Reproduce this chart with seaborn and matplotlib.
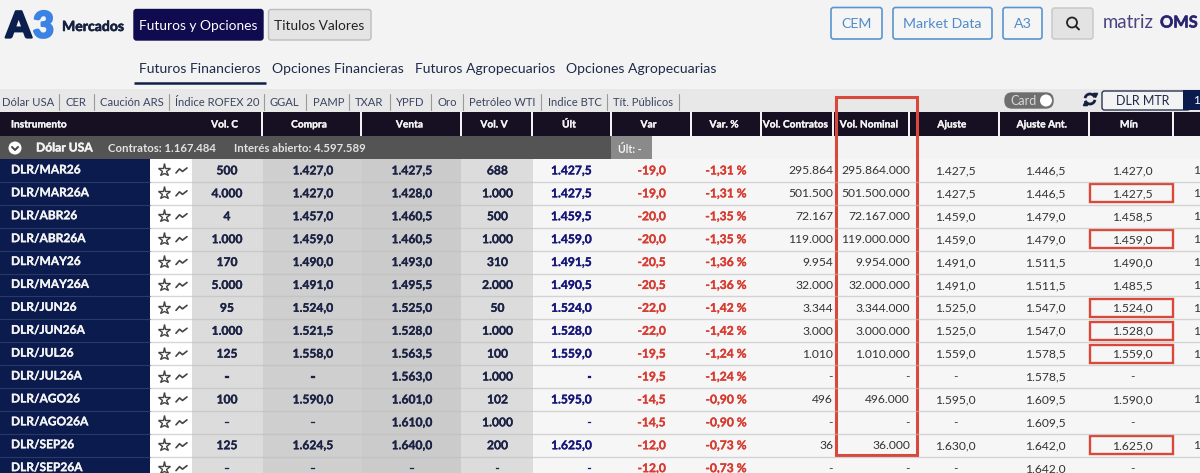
import numpy as np
import seaborn as sns
import matplotlib
matplotlib.use("Agg")
import matplotlib.pyplot as plt
import matplotlib.patheffects as pe
from matplotlib.patches import FancyBboxPatch, Rectangle, Circle, Arc

W, H = 1200, 473

# Table data
instrumentos = ["DLR/MAR26", "DLR/MAR26A", "DLR/ABR26", "DLR/ABR26A", "DLR/MAY26", "DLR/MAY26A", "DLR/JUN26",
                "DLR/JUN26A", "DLR/JUL26", "DLR/JUL26A", "DLR/AGO26", "DLR/AGO26A", "DLR/SEP26", "DLR/SEP26A"]
vol_c = ["500", "4.000", "4", "1.000", "170", "5.000", "95", "1.000", "125", "-", "100", "-", "125", "-"]
compra = ["1.427,0", "1.427,0", "1.457,0", "1.459,0", "1.490,0", "1.491,0", "1.524,0",
          "1.521,5", "1.558,0", "-", "1.590,0", "-", "1.624,5", "-"]
venta = ["1.427,5", "1.428,0", "1.460,5", "1.460,5", "1.493,0", "1.495,5", "1.525,0",
         "1.528,0", "1.563,5", "1.563,0", "1.601,0", "1.610,0", "1.640,0", "-"]
vol_v = ["688", "1.000", "500", "1.000", "310", "2.000", "50", "1.000", "100", "1.000", "102", "1.000", "200", "-"]
ult = ["1.427,5", "1.427,5", "1.459,5", "1.459,0", "1.491,5", "1.490,5", "1.524,0",
       "1.528,0", "1.559,0", "-", "1.595,0", "-", "1.625,0", "-"]
var = ["-19,0", "-19,0", "-20,0", "-20,0", "-20,5", "-20,5", "-22,0",
       "-22,0", "-19,5", "-19,5", "-14,5", "-14,5", "-12,0", "-12,0"]
var_pct = ["-1,31 %", "-1,31 %", "-1,35 %", "-1,35 %", "-1,36 %", "-1,36 %", "-1,42 %",
           "-1,42 %", "-1,24 %", "-1,24 %", "-0,90 %", "-0,90 %", "-0,73 %", "-0,73 %"]
vol_contratos = ["295.864", "501.500", "72.167", "119.000", "9.954", "32.000", "3.344",
                 "3.000", "1.010", "-", "496", "-", "36", "-"]
vol_nominal = ["295.864.000", "501.500.000", "72.167.000", "119.000.000", "9.954.000", "32.000.000", "3.344.000",
               "3.000.000", "1.010.000", "-", "496.000", "-", "36.000", "-"]
ajuste = ["1.427,5", "1.427,5", "1.459,0", "1.459,0", "1.491,0", "1.491,0", "1.525,0",
          "1.525,0", "1.559,0", "-", "1.595,0", "-", "1.630,0", "-"]
ajuste_ant = ["1.446,5", "1.446,5", "1.479,0", "1.479,0", "1.511,5", "1.511,5", "1.547,0",
              "1.547,0", "1.578,5", "1.578,5", "1.609,5", "1.609,5", "1.642,0", "1.642,0"]
minimo = ["1.427,0", "1.427,5", "1.458,5", "1.459,0", "1.490,0", "1.485,5", "1.524,0",
          "1.528,0", "1.559,0", "-", "1.590,0", "-", "1.625,0", "-"]
min_marcados = ["DLR/MAR26A", "DLR/ABR26A", "DLR/JUN26", "DLR/JUN26A", "DLR/JUL26", "DLR/SEP26"]
maximo_corte = ["1", "1", "1", "1", "1", "1", "1", "1", "1", "", "1", "", "1", ""]

encabezados = ["Instrumento", "Vol. C", "Compra", "Venta", "Vol. V", "Últ", "Var", "Var. %", "Vol. Contratos",
               "Vol. Nominal", "Ajuste", "Ajuste Ant.", "Mín"]
filtros = ["Dólar USA", "CER", "Caución ARS", "Índice ROFEX 20", "GGAL", "PAMP", "TXAR", "YPFD", "Oro",
           "Petróleo WTI", "Indice BTC", "Tít. Públicos"]
tabs = ["Futuros Financieros", "Opciones Financieras", "Futuros Agropecuarios", "Opciones Agropecuarias"]

NAVY = "#0b1b4d"
HEAD = "#170f22"
RED = "#d8493c"

sns.set_theme(style="white")
plt.rcParams["font.family"] = ["Lato", "DejaVu Sans"]

fig = plt.figure(figsize=(W / 100, H / 100), dpi=100, facecolor="#f3f3f3")


def px_axes(x0, x1, y0, y1, zorder):
    a = fig.add_axes([x0 / W, 1 - y1 / H, (x1 - x0) / W, (y1 - y0) / H], zorder=zorder)
    return a


def thick(width, color):
    return [pe.withStroke(linewidth=width, foreground=color)]


# Body background, one seaborn heatmap per column band
row_h = 22.9
top = 159
n = len(instrumentos)
bands = [(0, 150, NAVY), (150, 192, "#ffffff"), (192, 263, "#dcdcdc"), (263, 362, "#cfcfcf"), (362, 461, "#cbcbcb"),
         (461, 533, "#dcdcdc"), (533, 611, "#f6f6f6"), (611, 1200, "#f7f6f6")]
for x0, x1, color in bands:
    band_ax = px_axes(x0, x1, top, top + n * row_h, 1)
    sns.heatmap(np.ones((n, 1)), cmap=[color], vmin=0, vmax=1, cbar=False,
                xticklabels=False, yticklabels=False, ax=band_ax)

# Everything else goes on a transparent pixel-coordinate overlay
ax = px_axes(0, W, 0, H, 2)
ax.set_xlim(0, W)
ax.set_ylim(H, 0)
ax.axis("off")
ax.patch.set_alpha(0)


def button(x0, x1, y0, y1, face, edge, lw=1.0, r=2.5):
    ax.add_patch(FancyBboxPatch((x0 + r, y0 + r), x1 - x0 - 2 * r, y1 - y0 - 2 * r, boxstyle=f"round,pad={r}",
                                fc=face, ec=edge, lw=lw))


# Top bar
ax.text(6, 27, "A", fontsize=26, fontweight="black", color="#0a1f4d", va="center",
        path_effects=thick(1.6, "#0a1f4d"))
ax.text(33, 27, "3", fontsize=26, fontweight="black", color="#3a82e4", va="center",
        path_effects=thick(1.6, "#3a82e4"))
ax.text(62, 27, "Mercados", fontsize=10.1, fontweight="bold", color="#16213f", va="center",
        path_effects=thick(0.4, "#16213f"))
button(134, 263, 9.5, 40, "#100b4f", "#100b4f")
ax.text(198.5, 25.7, "Futuros y Opciones", fontsize=9.9, color="white", ha="center", va="center")
button(268.5, 371, 9.5, 40, "#e4e4e4", "#bcbcbc")
ax.text(319.5, 25.7, "Titulos Valores", fontsize=9.9, color="#222222", ha="center", va="center")
for x0, x1, label in [(831, 882, "CEM"), (893, 992, "Market Data"), (1003, 1042, "A3")]:
    button(x0, x1, 7.5, 39, "#f5f5f5", "#5b93cf", lw=1.2)
    ax.text((x0 + x1) / 2, 24, label, fontsize=10.2, color="#4f8bcb", ha="center", va="center")
button(1052, 1093, 8, 39, "#e3e3e3", "#c6c6c6")
ax.add_patch(Circle((1072, 22.5), 5, fc="none", ec="#222222", lw=1.3))
ax.plot([1076, 1079], [26.5, 29.5], color="#222222", lw=1.4)
ax.text(1103, 23, "matriz", fontsize=13.4, color="#4a4380", va="center")
ax.text(1160, 23.5, "OMS", fontsize=11.8, fontweight="bold", color="#2a2470", va="center",
        path_effects=thick(0.4, "#2a2470"))

# Section tabs
for x, label in zip([139, 272, 415, 566], tabs):
    ax.text(x, 69, label, fontsize=10.05, color="#1e2b4a", va="center")
ax.plot([134, 266], [83, 83], color="#0f2048", lw=1.8, solid_capstyle="butt")

# Filter strip
ax.add_patch(Rectangle((0, 89), W, 23, fc="#e8e8e8", ec="none"))
for x, label in zip([2, 66, 100, 175, 270, 313, 355, 396, 437, 469, 548, 613], filtros):
    ax.text(x, 102, label, fontsize=8.1, color="#3a4560", va="center")
for x in [59, 94, 169, 264, 306, 349, 390, 431, 463, 541, 606.5, 679]:
    ax.plot([x, x], [94, 110], color="#9a9a9a", lw=0.8)
button(1005, 1053, 93, 108, "#6e6e6e", "#6e6e6e", r=7)
ax.text(1010, 100.5, "Card", fontsize=9, color="#d8d8d8", va="center")
ax.add_patch(Circle((1046, 100.5), 6, fc="white", ec="none"))
ax.add_patch(Arc((1090, 99), 10, 10, theta1=190, theta2=340, color="#16213f", lw=2))
ax.add_patch(Arc((1090, 99), 10, 10, theta1=10, theta2=160, color="#16213f", lw=2))
ax.plot([1095], [95], marker="v", ms=3, color="#16213f")
ax.plot([1085], [103], marker="^", ms=3, color="#16213f")
button(1102, 1190, 91, 110, "#f3f3f3", "#2a3350", lw=1.0)
ax.add_patch(Rectangle((1183, 90.5), 17, 20, fc=NAVY, ec="none"))
ax.text(1193, 100.5, "1", fontsize=8.5, color="white", va="center", ha="left")
ax.text(1142.5, 100.5, "DLR MTR", fontsize=9, color="#1e2b4a", ha="center", va="center")

# Header row
head_edges = [(0, 261), (263, 360), (362, 460), (462, 531), (533, 610), (612, 690), (692, 760), (762, 832),
              (834, 908), (910, 998), (1000, 1088), (1090, 1172), (1174, 1200)]
for x0, x1 in head_edges:
    ax.add_patch(Rectangle((x0, 112), x1 - x0, 24, fc=HEAD, ec="none"))
head_x = [11, 224.5, 309, 409.5, 494, 569, 648.5, 724, 795.5, 869, 952, 1042, 1129]
for i, (x, label) in enumerate(zip(head_x, encabezados)):
    ax.text(x, 125, label, fontsize=7.3, fontweight="bold", color="#f4f4f4", va="center",
            ha="left" if i == 0 else "center", path_effects=thick(0.2, "#f4f4f4"))

# Group row
ax.add_patch(Rectangle((0, 136), 611, 23, fc="#545454", ec="none"))
ax.add_patch(Rectangle((611, 136), 41, 23, fc="#8a8a8a", ec="none"))
ax.add_patch(Circle((15, 148), 6.5, fc="white", ec="none"))
ax.plot([12, 15, 18], [147, 150, 147], color="#444444", lw=1.4)
ax.text(36, 148, "Dólar USA", fontsize=8.7, fontweight="bold", color="#f2f2f2", va="center",
        path_effects=thick(0.3, "#f2f2f2"))
ax.text(108, 148, "Contratos: 1.167.484", fontsize=8.2, fontweight="bold", color="#e2e2e2", va="center")
ax.text(234, 148, "Interés abierto: 4.597.589", fontsize=8.2, fontweight="bold", color="#e2e2e2", va="center")
ax.text(618, 149, "Últ: -", fontsize=7.6, fontweight="bold", color="#f2f2f2", va="center")

# Row separators
for i in range(1, n + 1):
    y = top + i * row_h
    ax.plot([0, 150], [y, y], color="#2a3a68", lw=0.8)
    ax.plot([150, 1200], [y, y], color="#bdbdbd", lw=1.0, alpha=0.6)

# Cell text
columnas = [
    (vol_c, 227, "center", "bold", "#1b2244"),
    (compra, 313, "center", "bold", "#1b2244"),
    (venta, 412, "center", "bold", "#1b2244"),
    (vol_v, 497.5, "center", "bold", "#1b2244"),
    (ult, 592, "right", "bold", "#16167a"),
    (var, 666, "right", "bold", "#d63c32"),
    (var_pct, 747, "right", "bold", "#d63c32"),
    (vol_contratos, 833, "right", "normal", "#333333"),
    (vol_nominal, 910, "right", "normal", "#333333"),
    (ajuste, 955, "center", "normal", "#333333"),
    (ajuste_ant, 1045, "center", "normal", "#333333"),
    (minimo, 1132, "center", "normal", "#333333"),
    (maximo_corte, 1200, "right", "normal", "#333333"),
]
for i, nombre in enumerate(instrumentos):
    y = top + (i + 0.5) * row_h
    ax.text(11, y - 0.5, nombre, fontsize=8.6, fontweight="bold", color="#f4f4f4", va="center",
            path_effects=thick(0.2, "#f4f4f4"))
    ax.plot(164, y, marker="*", ms=9.5, mfc="none", mec="#444444", mew=1.0)
    ax.plot(np.array([176, 179.5, 182.5, 187]), y + np.array([2.5, -1.5, 1, -2.5]), color="#444444", lw=1.2)
    for valores, x, ha, weight, color in columnas:
        effects = thick(0.2, color) if weight == "bold" else None
        ax.text(x, y + 0.5, valores[i], fontsize=8.7, fontweight=weight, color=color, ha=ha, va="center",
                path_effects=effects)
    if nombre in min_marcados:
        ax.add_patch(Rectangle((1090, y - 9), 83, 18, fc="none", ec=RED, lw=1.7))

# Red highlight around Vol. Nominal
ax.add_patch(Rectangle((836, 97), 80.5, 358, fc="none", ec=RED, lw=2.2))

fig.savefig("out.png", dpi=100, facecolor=fig.get_facecolor())
